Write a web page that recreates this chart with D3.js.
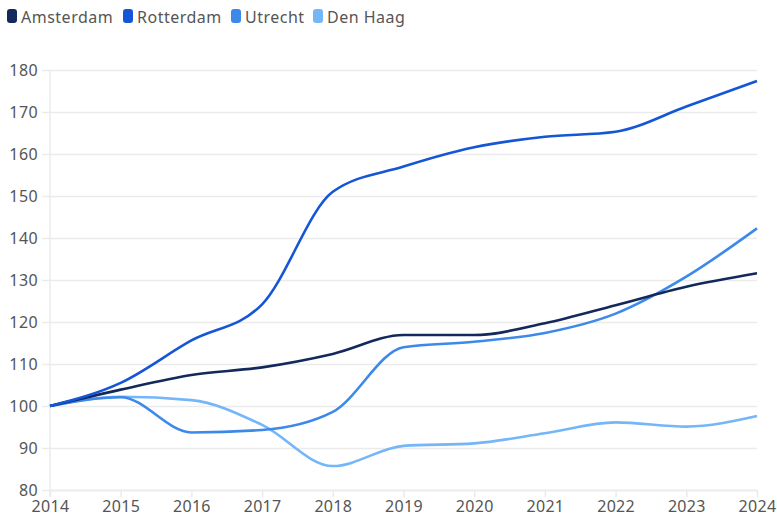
<!DOCTYPE html>
<html lang="en">
<head>
  <meta charset="utf-8">
  <title>Index per city</title>
  <script src="https://d3js.org/d3.v7.min.js"></script>
  <style>
    body { margin: 0; background: #fff; }
    text { font-family: "Noto Sans", Roboto, sans-serif; fill: #555; }
  </style>
</head>
<body>
  <script>
    // data (index, 2014 = 100)
    var years = [2014, 2015, 2016, 2017, 2018, 2019, 2020, 2021, 2022, 2023, 2024];
    var cities = ["Amsterdam", "Rotterdam", "Utrecht", "Den Haag"];
    var amsterdam = [100, 103.9, 107.4, 109.2, 112.4, 116.9, 116.9, 119.7, 124.0, 128.4, 131.6];
    var rotterdam = [100, 105.5, 115.6, 124.2, 151.0, 157.0, 161.6, 164.1, 165.3, 171.3, 177.4];
    var utrecht   = [100, 102.1, 93.7, 94.3, 98.6, 114.0, 115.3, 117.4, 122.0, 130.8, 142.3];
    var denHaag   = [100, 102.2, 101.4, 95.5, 85.7, 90.5, 91.1, 93.5, 96.1, 95.1, 97.6];
    var yTicks = [80, 90, 100, 110, 120, 130, 140, 150, 160, 170, 180];
    var colours = ["#13295b", "#1456d6", "#3d89ea", "#74b6f7"];

    var series = [amsterdam, rotterdam, utrecht, denHaag];

    var w = 777, h = 517;
    var svg = d3.select("body").append("svg")
      .attr("width", w)
      .attr("height", h);

    var x = d3.scaleLinear().domain([2014, 2024]).range([50, 757]);
    var y = d3.scaleLinear().domain([80, 180]).range([490, 70]);

    // horizontal grid + y labels
    var yAxis = svg.append("g")
      .attr("transform", "translate(50,0)")
      .call(d3.axisLeft(y).tickValues(yTicks).tickSizeInner(-(757 - 50)).tickSizeOuter(0));
    yAxis.select(".domain").remove();
    yAxis.selectAll(".tick line")
      .attr("x1", -8)
      .attr("stroke", "#ebebeb")
      .attr("stroke-width", 1.5);
    yAxis.selectAll(".tick text")
      .attr("x", -12)
      .attr("dy", "0.32em")
      .style("font-size", "16px")
      .style("letter-spacing", "0.4px");

    // left vertical line
    svg.append("line")
      .attr("x1", 50).attr("x2", 50)
      .attr("y1", y(180)).attr("y2", y(80) + 7)
      .attr("stroke", "#ebebeb")
      .attr("stroke-width", 1.5);

    // x axis
    var xAxis = svg.append("g")
      .attr("transform", "translate(0," + y(80) + ")")
      .call(d3.axisBottom(x).tickValues(years).tickFormat(d3.format("d")).tickSize(7).tickPadding(4).tickSizeOuter(0));
    xAxis.select(".domain").attr("stroke", "#ebebeb").attr("stroke-width", 1.5);
    xAxis.selectAll(".tick line").attr("stroke", "#ebebeb").attr("stroke-width", 1.5);
    xAxis.selectAll(".tick text").style("font-size", "16px").style("letter-spacing", "0.3px");

    // lines
    var line = d3.line()
      .x(function(d, i) { return x(years[i]); })
      .y(function(d) { return y(d); })
      .curve(d3.curveMonotoneX);

    // paint order: lightest first, Rotterdam on top
    var order = [3, 2, 0, 1];
    order.forEach(function(k) {
      svg.append("path")
        .datum(series[k])
        .attr("d", line)
        .attr("fill", "none")
        .attr("stroke", colours[k])
        .attr("stroke-width", 2.6)
        .attr("stroke-linejoin", "round");
    });

    // legend
    var legendX = [7, 123, 231, 313];
    var legend = svg.append("g");
    cities.forEach(function(c, i) {
      legend.append("rect")
        .attr("x", legendX[i]).attr("y", 9)
        .attr("width", 10).attr("height", 14)
        .attr("rx", 3)
        .attr("fill", colours[i]);
      legend.append("text")
        .attr("x", legendX[i] + 14).attr("y", 22.5)
        .style("font-size", "16px")
        .style("letter-spacing", "0.5px")
        .text(c);
    });
  </script>
</body>
</html>
